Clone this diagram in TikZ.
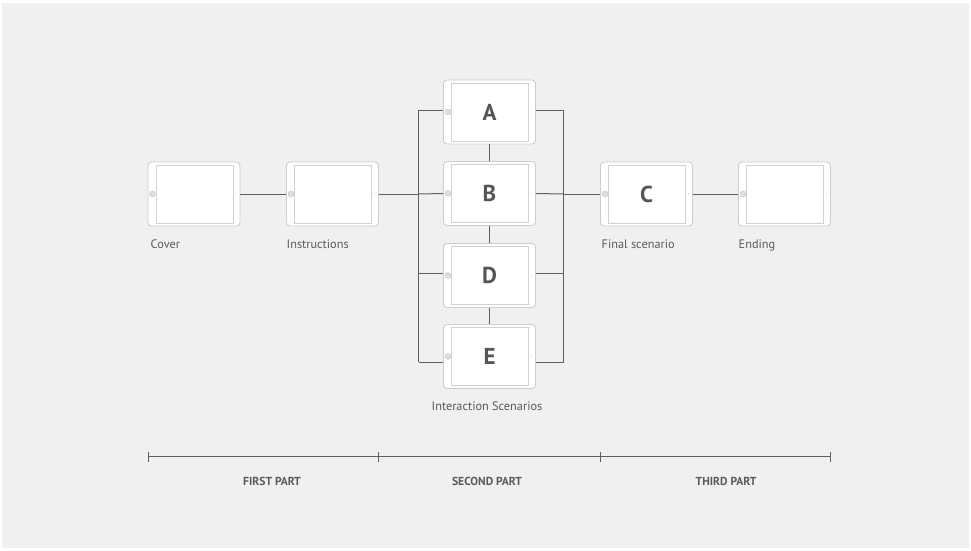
\documentclass[tikz,border=0pt]{standalone}
\usepackage{fontspec}
\setmainfont{PT Sans}
\definecolor{bg}{HTML}{F0F0F0}
\definecolor{tabedge}{HTML}{CDCDCD}
\definecolor{scredge}{HTML}{D2D2D2}
\definecolor{wire}{HTML}{5F5F5F}
\definecolor{txt}{HTML}{5A5A5A}
\definecolor{big}{HTML}{555555}
\begin{document}
\begin{tikzpicture}[x=1pt,y=-1pt,
  tablet/.style={draw=tabedge, fill=white, rounded corners=3.5pt, line width=0.9pt,
    minimum width=92pt, minimum height=64pt, inner sep=0pt,
    font=\fontsize{23}{23}\selectfont\bfseries, text=big,
    path picture={
      \draw[scredge, line width=0.9pt, sharp corners]
        ([shift={(-38pt,-29pt)}]path picture bounding box.center) rectangle
        ([shift={(39pt,29pt)}]path picture bounding box.center);
      \filldraw[fill=scredge!70, draw=scredge] ([xshift=-41.5pt]path picture bounding box.center) circle (2.8pt);
      \fill[scredge] ([xshift=42pt]path picture bounding box.center) circle (0.7pt);
    }},
  wire/.style={draw=wire, line width=1pt},
  lbl/.style={font=\fontsize{12.3}{12.3}\selectfont, text=txt, inner sep=0pt},
  part/.style={font=\fontsize{11.6}{11.6}\selectfont\bfseries, text=txt, inner sep=0pt}
]
\useasboundingbox (0,0) rectangle (971,550);
\fill[white] (0,0) rectangle (971,550);
\fill[bg] (2,3) rectangle (969,548);

% tablets
\node[tablet] (cover) at (194,194) {};
\node[tablet] (instr) at (332.5,194) {};
\node[tablet] (A) at (489.5,112) {A};
\node[tablet] (B) at (489.5,193.5) {B};
\node[tablet] (D) at (489.5,275.5) {D};
\node[tablet] (E) at (489.5,356.5) {E};
\node[tablet] (C) at (646.5,194) {C};
\node[tablet] (ending) at (784.5,194) {};

% bus coordinates
\coordinate (lbus) at (418.5,194);
\coordinate (rbus) at (563.5,194);
\coordinate (ltop) at (418.5,110);
\coordinate (lbot) at (418.5,362);
\coordinate (rtop) at (563.5,110);
\coordinate (rbot) at (563.5,362);

% connectors
\draw[wire] (cover.east) -- (instr.west);
\draw[wire] (instr.east) -- (lbus);
\draw[wire] (ltop) -- (lbot);
\draw[wire] (rtop) -- (rbot);
\draw[wire] (ltop) -- (ltop -| A.west);
\draw[wire] (lbus) -- (B.west);
\draw[wire] (418.5,273.5) -- (D.west |- 0,273.5);
\draw[wire] (lbot) -- (lbot -| E.west);
\draw[wire] (rtop -| A.east) -- (rtop);
\draw[wire] (B.east) -- (rbus);
\draw[wire] (D.east |- 0,273.5) -- (563.5,273.5);
\draw[wire] (rbot -| E.east) -- (rbot);
\draw[wire] (rbus) -- (C.west);
\draw[wire] (C.east) -- (ending.west);
\draw[wire] (A.south) -- (B.north);
\draw[wire] (B.south) -- (D.north);
\draw[wire] (D.south) -- (E.north);

% labels
\node[lbl, anchor=base west] (lcover) at (150.5,248) {Cover};
\node[lbl, anchor=base west] (linstr) at (286.5,248) {Instructions};
\node[lbl, anchor=base west] (lfinal) at (601.5,248) {Final scenario};
\node[lbl, anchor=base west] (lend) at (738.5,248) {Ending};
\node[lbl, anchor=base] (linter) at (487,410) {Interaction Scenarios};

% timeline
\coordinate (t0) at (148.3,456.5);
\coordinate (t1) at (378.7,456.5);
\coordinate (t2) at (600.7,456.5);
\coordinate (t3) at (830.3,456.5);
\draw[wire] (t0) -- (t3);
\foreach \t in {t0,t1,t2,t3}
  \draw[wire] ([yshift=5pt]\t) -- ([yshift=-5pt]\t);
\node[part, anchor=base] (p1) at (272,485.5) {FIRST PART};
\node[part, anchor=base] (p2) at (487,485.5) {SECOND PART};
\node[part, anchor=base] (p3) at (726,485.5) {THIRD PART};
\end{tikzpicture}
\end{document}
